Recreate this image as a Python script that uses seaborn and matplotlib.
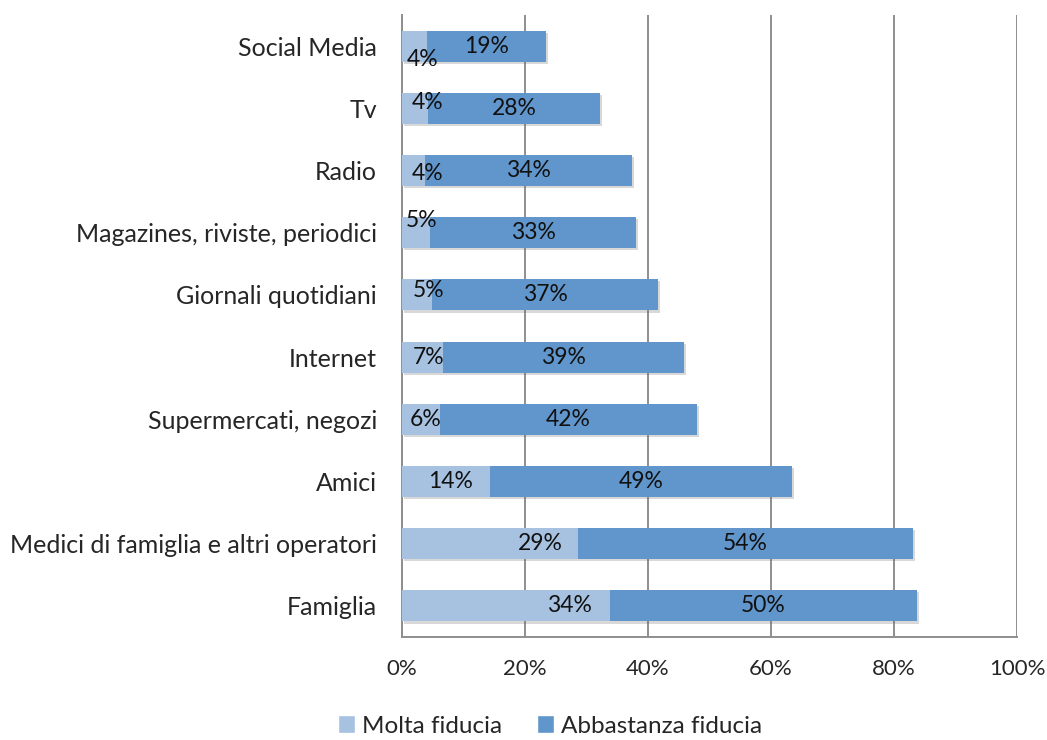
import matplotlib
matplotlib.use("Agg")
import matplotlib.pyplot as plt
import matplotlib.patheffects as pe
from matplotlib.patches import Patch
from matplotlib.ticker import FixedLocator, PercentFormatter
import numpy as np
import pandas as pd
import seaborn as sns

categories = [
    "Social Media",
    "Tv",
    "Radio",
    "Magazines, riviste, periodici",
    "Giornali quotidiani",
    "Internet",
    "Supermercati, negozi",
    "Amici",
    "Medici di famiglia e altri operatori",
    "Famiglia",
]
molta = [4.1, 4.2, 3.7, 4.6, 4.9, 6.7, 6.2, 14.3, 28.6, 33.8]
abbastanza = [19.3, 28.0, 33.7, 33.4, 36.7, 39.2, 41.8, 49.1, 54.5, 49.9]
molta_labels = ["4%", "4%", "4%", "5%", "5%", "7%", "6%", "14%", "29%", "34%"]
abbastanza_labels = ["19%", "28%", "34%", "33%", "37%", "39%", "42%", "49%", "54%", "50%"]

# small nudges (points) for the light labels, as in the original layout
molta_dx = [6, 9, 10, 4, 8, 4, 3, 3, 36, 46]
molta_dy = [-10, 4, -2, 9, 3, 0, 0, 0, 0, 0]

LIGHT = "#A7C2E1"
DARK = "#6096CB"
GRID = "#8E8E8E"

sns.set_style("white")
plt.rcParams["font.family"] = ["Lato", "DejaVu Sans"]

df = pd.DataFrame({"cat": categories, "molta": molta, "abbastanza": abbastanza})
df["totale"] = df["molta"] + df["abbastanza"]

fig = plt.figure(figsize=(10.47, 7.40), dpi=100)
ax = fig.add_axes([402 / 1047, 1 - 637 / 740, 615 / 1047, 622 / 740])

shadow = [pe.SimplePatchShadow(offset=(1.5, -1.5), alpha=0.25, shadow_rgbFace="#666666"), pe.Normal()]

sns.barplot(data=df, y="cat", x="totale", color=DARK, orient="h", width=0.5,
            saturation=1, ax=ax, zorder=3)
sns.barplot(data=df, y="cat", x="molta", color=LIGHT, orient="h", width=0.5,
            saturation=1, ax=ax, zorder=4)
for p in ax.patches:
    p.set_linewidth(0)
for p in ax.patches[:len(categories)]:
    p.set_path_effects(shadow)

for i in range(len(categories)):
    ax.annotate(molta_labels[i], xy=(molta[i] / 2, i), xytext=(molta_dx[i], molta_dy[i]),
                textcoords="offset points", ha="center", va="center", fontsize=16.5,
                color="#111111", zorder=6)
    ax.text(molta[i] + abbastanza[i] / 2, i, abbastanza_labels[i], ha="center", va="center",
            fontsize=16.5, color="#111111", zorder=6)

ax.set_xlim(0, 100)
ax.set_ylim(len(categories) - 0.5, -0.5)
ax.xaxis.set_major_locator(FixedLocator([0, 20, 40, 60, 80, 100]))
ax.xaxis.set_major_formatter(PercentFormatter(decimals=0))
ax.grid(axis="x", color=GRID, linewidth=1.4, zorder=0)
ax.set_axisbelow(True)
ax.set_xlabel("")
ax.set_ylabel("")

for s in ["top", "right"]:
    ax.spines[s].set_visible(False)
for s in ["left", "bottom"]:
    ax.spines[s].set_color(GRID)
    ax.spines[s].set_linewidth(1.4)

ax.tick_params(axis="x", which="major", length=7, width=1.4, color=GRID, direction="out",
               labelsize=16, pad=9)
ax.tick_params(axis="y", which="major", length=0, labelsize=18, pad=18)
ax.yaxis.set_minor_locator(FixedLocator(np.arange(-0.5, len(categories), 1.0)))
ax.tick_params(axis="y", which="minor", length=7, width=1.4, color=GRID, direction="out")

handles = [Patch(facecolor=LIGHT, label="Molta fiducia"), Patch(facecolor=DARK, label="Abbastanza fiducia")]
fig.legend(handles=handles, loc="center", bbox_to_anchor=(550 / 1047, 1 - 726 / 740), ncol=2,
           frameon=False, fontsize=17.5, handlelength=0.7, handleheight=0.7,
           handletextpad=0.3, columnspacing=1.4)

fig.savefig("out.png", dpi=100)
